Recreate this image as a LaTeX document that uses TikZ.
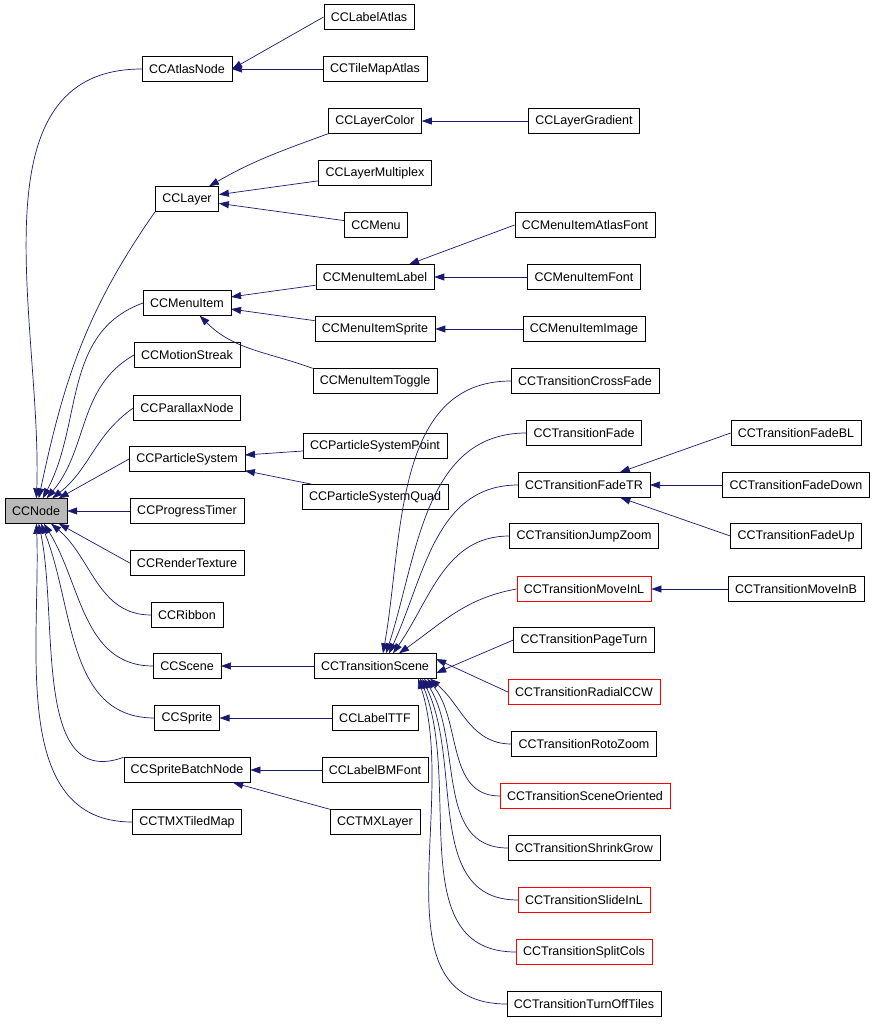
\documentclass[tikz,border=0pt]{standalone}
\usepackage{fontspec}
\setmainfont{Liberation Sans}
\usetikzlibrary{arrows.meta}
\definecolor{navyedge}{HTML}{191970}
\tikzset{cls/.style={draw=black,fill=white,minimum height=25pt,inner xsep=7pt,font=\fontsize{12.5}{14}\selectfont},
  base/.style={cls,fill=gray!55},
  undoc/.style={cls,draw=red},
  inh/.style={draw=navyedge,line width=0.7pt,-{Triangle[length=10pt,width=7pt]}}}
\begin{document}
\begin{tikzpicture}[x=1pt,y=-1pt]
\useasboundingbox (0,0) rectangle (877,1025);

% first level
\node[base] (ccnode) at (36,511) {CCNode};
\node[cls] (atlasnode) at (187,69) {CCAtlasNode};
\node[cls] (layer) at (187,199) {CCLayer};
\node[cls] (menuitem) at (187,303) {CCMenuItem};
\node[cls] (motion) at (187,355) {CCMotionStreak};
\node[cls] (parallax) at (187,408) {CCParallaxNode};
\node[cls] (particle) at (187,459) {CCParticleSystem};
\node[cls] (progress) at (187,511) {CCProgressTimer};
\node[cls] (render) at (187,563) {CCRenderTexture};
\node[cls] (ribbon) at (187,615) {CCRibbon};
\node[cls] (scene) at (187,666) {CCScene};
\node[cls] (sprite) at (187,718) {CCSprite};
\node[cls] (batch) at (187,770) {CCSpriteBatchNode};
\node[cls] (tmxmap) at (187,822) {CCTMXTiledMap};

% second level
\node[cls] (labelatlas) at (369,17) {CCLabelAtlas};
\node[cls] (tilemap) at (375,69) {CCTileMapAtlas};
\node[cls] (layercolor) at (375,121) {CCLayerColor};
\node[cls] (multiplex) at (375,173) {CCLayerMultiplex};
\node[cls] (menu) at (376,225) {CCMenu};
\node[cls] (itemlabel) at (375,277) {CCMenuItemLabel};
\node[cls] (itemsprite) at (375,329) {CCMenuItemSprite};
\node[cls] (itemtoggle) at (375,381) {CCMenuItemToggle};
\node[cls] (pspoint) at (375,446) {CCParticleSystemPoint};
\node[cls] (psquad) at (375,497) {CCParticleSystemQuad};
\node[cls] (tscene) at (375,666) {CCTransitionScene};
\node[cls] (labelttf) at (375,718) {CCLabelTTF};
\node[cls] (bmfont) at (375,770) {CCLabelBMFont};
\node[cls] (tmxlayer) at (375,822) {CCTMXLayer};

% third level
\node[cls] (gradient) at (584,121) {CCLayerGradient};
\node[cls] (atlasfont) at (585,225) {CCMenuItemAtlasFont};
\node[cls] (itemfont) at (584,277) {CCMenuItemFont};
\node[cls] (itemimage) at (584,329) {CCMenuItemImage};
\node[cls] (crossfade) at (585,381) {CCTransitionCrossFade};
\node[cls] (tfade) at (584,433) {CCTransitionFade};
\node[cls] (fadetr) at (584,485) {CCTransitionFadeTR};
\node[cls] (jumpzoom) at (584,536) {CCTransitionJumpZoom};
\node[undoc] (moveinl) at (584,589) {CCTransitionMoveInL};
\node[cls] (pageturn) at (584,640) {CCTransitionPageTurn};
\node[undoc] (radial) at (584,692) {CCTransitionRadialCCW};
\node[cls] (rotozoom) at (584,744) {CCTransitionRotoZoom};
\node[undoc] (oriented) at (585,796) {CCTransitionSceneOriented};
\node[cls] (shrink) at (584,848) {CCTransitionShrinkGrow};
\node[undoc] (slideinl) at (584,900) {CCTransitionSlideInL};
\node[undoc] (splitcols) at (584,952) {CCTransitionSplitCols};
\node[cls] (turnoff) at (584,1004) {CCTransitionTurnOffTiles};

% fourth level
\node[cls] (fadebl) at (796,433) {CCTransitionFadeBL};
\node[cls] (fadedown) at (796,485) {CCTransitionFadeDown};
\node[cls] (fadeup) at (796,536) {CCTransitionFadeUp};
\node[cls] (moveinb) at (796,589) {CCTransitionMoveInB};

% arrow end points on CCTransitionScene
\coordinate (tstop) at (tscene.north);
\coordinate (tsbot) at ([xshift=-12pt]tscene.south east);

% edges to CCNode
\draw[inh] (atlasnode.west) to[out=180,in=88] (ccnode);
\draw[inh] (layer.south west) to[out=235,in=78] (ccnode);
\draw[inh] (menuitem.west) to[out=200,in=62] (ccnode);
\draw[inh] (motion.west) to[out=210,in=50] (ccnode);
\draw[inh] (parallax.west) to[out=215,in=38] (ccnode);
\draw[inh] (particle.west) -- (ccnode);
\draw[inh] (progress.west) -- (ccnode);
\draw[inh] (render.west) -- (ccnode);
\draw[inh] (ribbon.west) to[out=180,in=-40] (ccnode);
\draw[inh] (scene.west) to[out=180,in=-58] (ccnode);
\draw[inh] (sprite.west) to[out=180,in=-68] (ccnode);
\draw[inh] (batch.north west) to[out=200,in=-78] (ccnode);
\draw[inh] (tmxmap.west) to[out=180,in=-88] (ccnode);

% second level edges
\draw[inh] (labelatlas.west) -- (atlasnode.east);
\draw[inh] (tilemap) -- (atlasnode);
\draw[inh] (layercolor.south west) to[out=200,in=30] (layer);
\draw[inh] (multiplex) -- (layer);
\draw[inh] (menu) -- (layer);
\draw[inh] (itemlabel) -- (menuitem);
\draw[inh] (itemsprite) -- (menuitem);
\draw[inh] (itemtoggle.north west) to[out=160,in=-45] (menuitem);
\draw[inh] (pspoint) -- (particle);
\draw[inh] (psquad) -- (particle);
\draw[inh] (tscene) -- (scene);
\draw[inh] (labelttf) -- (sprite);
\draw[inh] (bmfont) -- (batch);
\draw[inh] (tmxlayer.north west) -- (batch);

% third level edges
\draw[inh] (crossfade.west) to[out=180,in=80] ([xshift=8pt]tstop);
\draw[inh] (tfade.west) to[out=180,in=72] ([xshift=11pt]tstop);
\draw[inh] (fadetr.west) to[out=180,in=65] ([xshift=14pt]tstop);
\draw[inh] (jumpzoom.west) to[out=180,in=55] ([xshift=18pt]tstop);
\draw[inh] (moveinl.west) to[out=190,in=35] ([xshift=24pt]tstop);
\draw[inh] (pageturn.west) -- ([yshift=-7pt]tscene.east);
\draw[inh] (radial.west) -- ([yshift=7pt]tscene.east);
\draw[inh] (rotozoom.west) to[out=180,in=-40] ([xshift=6pt]tsbot);
\draw[inh] (oriented.west) to[out=180,in=-50] ([xshift=3pt]tsbot);
\draw[inh] (shrink.west) to[out=180,in=-58] (tsbot);
\draw[inh] (slideinl.west) to[out=180,in=-64] ([xshift=-2pt]tsbot);
\draw[inh] (splitcols.west) to[out=180,in=-68] ([xshift=-4pt]tsbot);
\draw[inh] (turnoff.west) to[out=180,in=-72] ([xshift=-6pt]tsbot);
\draw[inh] (gradient) -- (layercolor);
\draw[inh] (atlasfont.west) -- (itemlabel);
\draw[inh] (itemfont) -- (itemlabel);
\draw[inh] (itemimage) -- (itemsprite);

% fourth level edges
\draw[inh] (fadebl.west) -- (fadetr);
\draw[inh] (fadedown) -- (fadetr);
\draw[inh] (fadeup.west) -- (fadetr);
\draw[inh] (moveinb) -- (moveinl);
\end{tikzpicture}
\end{document}
